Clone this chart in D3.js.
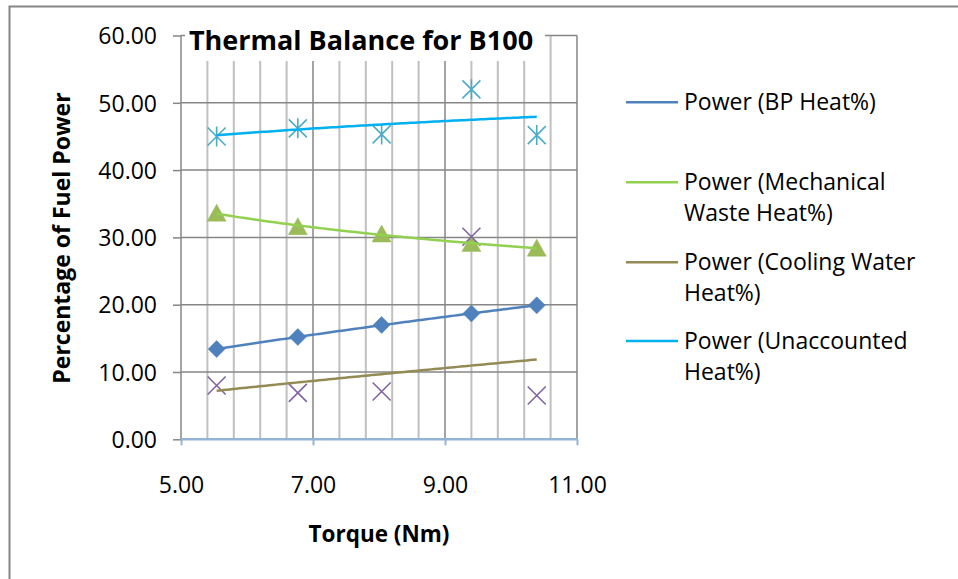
<!DOCTYPE html>
<html>
<head>
<meta charset="utf-8">
<script src="https://cdn.jsdelivr.net/npm/d3@7"></script>
<style>
  body { margin: 0; background: #fff; }
  svg text { font-family: "Open Sans", Lato, sans-serif; fill: #000; }
</style>
</head>
<body>
<div id="chart"></div>
<script>
// torque values (Nm) and the four heat shares (% of fuel power)
var torque = [5.54, 6.77, 8.04, 9.40, 10.39];
var bpHeat = [13.4, 15.2, 17.0, 18.7, 19.9];
var mechHeat = [33.6, 31.6, 30.5, 29.1, 28.4];
var coolHeat = [8.0, 6.9, 7.1, 30.1, 6.5];
var unaccHeat = [45.0, 46.2, 45.3, 52.0, 45.2];

var xMajor = [5, 7, 9, 11];
var yTicks = [0, 10, 20, 30, 40, 50, 60];

var legendNames = [
  ["Power (BP Heat%)"],
  ["Power (Mechanical", "Waste Heat%)"],
  ["Power (Cooling Water", "Heat%)"],
  ["Power (Unaccounted", "Heat%)"]
];

var W = 958, H = 579;
var plot = {left: 181, right: 577, top: 35.5, bottom: 439.3};

var svg = d3.select("#chart").append("svg")
  .attr("width", W)
  .attr("height", H);

// chart border (runs past right / bottom edge like the screenshot)
svg.append("rect")
  .attr("x", 9.5).attr("y", 6.5)
  .attr("width", W + 20).attr("height", H + 20)
  .style("fill", "#fff")
  .style("stroke", "#868686")
  .style("stroke-width", 2);

var x = d3.scaleLinear().domain([5, 11]).range([plot.left, plot.right]);
var y = d3.scaleLinear().domain([0, 60]).range([plot.bottom, plot.top]);

// minor vertical gridlines every 0.4
var xMinor = d3.range(5, 11.0001, 0.4).filter(function(v) {
  return xMajor.every(function(m) { return Math.abs(m - v) > 1e-6; });
});
svg.append("g").selectAll("line")
  .data(xMinor)
  .enter().append("line")
  .attr("x1", function(d) { return x(d); })
  .attr("x2", function(d) { return x(d); })
  .attr("y1", plot.top).attr("y2", plot.bottom)
  .style("stroke", "#c0c0c0")
  .style("stroke-width", 2);

// major gridlines
svg.append("g").selectAll("line")
  .data(yTicks)
  .enter().append("line")
  .attr("x1", plot.left).attr("x2", plot.right)
  .attr("y1", function(d) { return y(d); })
  .attr("y2", function(d) { return y(d); })
  .style("stroke", "#868686")
  .style("stroke-width", 1.5);

svg.append("g").selectAll("line")
  .data(xMajor)
  .enter().append("line")
  .attr("x1", function(d) { return x(d); })
  .attr("x2", function(d) { return x(d); })
  .attr("y1", plot.top).attr("y2", plot.bottom)
  .style("stroke", "#868686")
  .style("stroke-width", 1.5);

// y axis ticks and labels
var yAxis = svg.append("g")
  .attr("transform", "translate(" + plot.left + ",0)")
  .call(d3.axisLeft(y).tickValues(yTicks).tickSize(8).tickPadding(16).tickFormat(d3.format(".2f")));
yAxis.select(".domain").remove();
yAxis.selectAll(".tick line").style("stroke", "#868686").style("stroke-width", 1.5);
yAxis.selectAll(".tick text").style("font-size", "23px").attr("dy", "0.36em");

// x axis: light blue baseline with ticks
var xAxis = svg.append("g")
  .attr("transform", "translate(0," + plot.bottom + ")")
  .call(d3.axisBottom(x).tickValues(xMajor).tickSize(6).tickPadding(31).tickFormat(d3.format(".2f")));
xAxis.select(".domain").attr("d", "M" + plot.left + ",0H" + plot.right)
  .style("stroke", "#95b3d7").style("stroke-width", 2.5);
xAxis.selectAll(".tick line").style("stroke", "#95b3d7").style("stroke-width", 2);
xAxis.selectAll(".tick text").style("font-size", "23px");

// power trendline fit (y = a*x^b, least squares in log space)
function powerFit(xs, ys) {
  var lx = xs.map(Math.log), ly = ys.map(Math.log);
  var mx = d3.mean(lx), my = d3.mean(ly);
  var sxy = d3.sum(lx, function(v, i) { return (v - mx) * (ly[i] - my); });
  var sxx = d3.sum(lx, function(v) { return (v - mx) * (v - mx); });
  var b = sxy / sxx, a = Math.exp(my - b * mx);
  return function(t) { return a * Math.pow(t, b); };
}

var series = [
  {vals: bpHeat, marker: "diamond", mcolor: "#4f81bd", tcolor: "#4f81bd"},
  {vals: mechHeat, marker: "triangle", mcolor: "#9bbb59", tcolor: "#92d050"},
  {vals: coolHeat, marker: "times", mcolor: "#8064a2", tcolor: "#948a54"},
  {vals: unaccHeat, marker: "star", mcolor: "#4bacc6", tcolor: "#00b0f0"}
];

var markerPath = {
  diamond: "M0,-8.5L8.5,0L0,8.5L-8.5,0Z",
  triangle: "M0,-9L9.5,8L-9.5,8Z",
  times: "M-9,-9L9,9M-9,9L9,-9",
  star: "M-9,-9L9,9M-9,9L9,-9M0,-10L0,10"
};

series.forEach(function(s) {
  var filled = s.marker === "diamond" || s.marker === "triangle";
  svg.append("g").selectAll("path")
    .data(s.vals)
    .enter().append("path")
    .attr("transform", function(d, i) { return "translate(" + x(torque[i]) + "," + y(d) + ")"; })
    .attr("d", markerPath[s.marker])
    .style("fill", filled ? s.mcolor : "none")
    .style("stroke", s.mcolor)
    .style("stroke-width", filled ? 0.5 : 1.6);
});

var xs = d3.range(d3.min(torque), d3.max(torque), 0.05).concat([d3.max(torque)]);
series.forEach(function(s) {
  var f = powerFit(torque, s.vals);
  svg.append("path")
    .datum(xs)
    .attr("d", d3.line().x(function(d) { return x(d); }).y(function(d) { return y(f(d)); }))
    .style("fill", "none")
    .style("stroke", s.tcolor)
    .style("stroke-width", 2.5);
});

// title box over the top of the plot
svg.append("rect")
  .attr("x", 185).attr("y", 18)
  .attr("width", 360).attr("height", 43)
  .style("fill", "#fff");
svg.append("text")
  .attr("x", 361).attr("y", 49.5)
  .attr("text-anchor", "middle")
  .style("font-size", "27px")
  .style("font-weight", "bold")
  .text("Thermal Balance for B100");

// axis titles
svg.append("text")
  .attr("x", 379).attr("y", 542)
  .attr("text-anchor", "middle")
  .style("font-size", "22.5px")
  .style("font-weight", "bold")
  .text("Torque (Nm)");

svg.append("text")
  .attr("transform", "translate(70,238) rotate(-90)")
  .attr("text-anchor", "middle")
  .style("font-size", "23px")
  .style("font-weight", "bold")
  .text("Percentage of Fuel Power");

// legend (trendlines only)
var legendY = [102.3, 182.3, 262.3, 341];
var legend = svg.append("g");
series.forEach(function(s, i) {
  var g = legend.append("g").attr("transform", "translate(0," + legendY[i] + ")");
  g.append("line")
    .attr("x1", 626).attr("x2", 678)
    .attr("y1", 0).attr("y2", 0)
    .style("stroke", s.tcolor)
    .style("stroke-width", 2.5);
  g.selectAll("text")
    .data(legendNames[i])
    .enter().append("text")
    .attr("x", 684)
    .attr("y", function(d, j) { return 8 + j * 30.7; })
    .style("font-size", "23px")
    .text(function(d) { return d; });
});
</script>
</body>
</html>
